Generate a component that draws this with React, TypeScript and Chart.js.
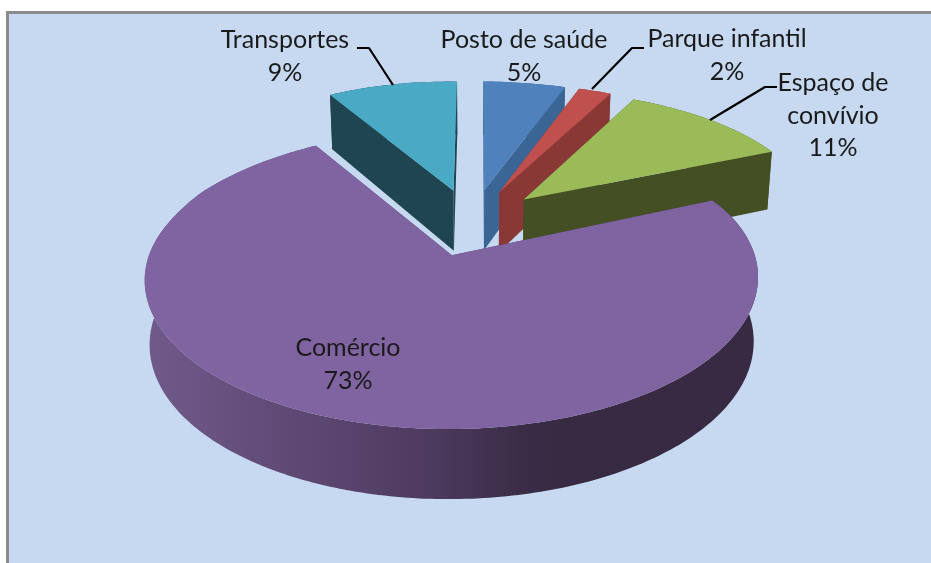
import React, { useEffect, useRef } from "react";
import { Chart, registerables } from "chart.js";

Chart.register(...registerables);

const categories = ["Posto de saúde", "Parque infantil", "Espaço de convívio", "Comércio", "Transportes"];
const shares = [5, 2, 11, 73, 9];
const topColours = ["#4f81bd", "#c0504d", "#9bbb59", "#8064a2", "#4aaac5"];
const wallColours = ["#3a6594", "#8a3836", "#454f24", "#4f3d63", "#1e4550"];
const paintOrder = [4, 0, 1, 2, 3];

const labelLines = [["Posto de saúde"], ["Parque infantil"], ["Espaço de", "convívio"], ["Comércio"], ["Transportes"]];
const labelCentres = [
  [524, 40],
  [727, 39],
  [833, 83],
  [348, 348],
  [285, 40],
];
const leaders: (number[][] | null)[] = [
  null,
  [[644, 48], [632, 48], [592, 89]],
  [[777, 87], [765, 87], [710, 120]],
  null,
  [[357, 48], [369, 48], [393, 85]],
];

const BG = "#c6d9f1";
const VIEW = { cx: 472, cy: 222, a: 292, b: 134, p: 0.15, explode: 0.25 };

function project(u: number, v: number, low: boolean) {
  const s = 1 / (1 + VIEW.p * v);
  let x = VIEW.cx + VIEW.a * u * s + 1 + 14 * Math.abs(u) * Math.max(v, 0);
  let y = VIEW.cy - VIEW.b * v * s + 3.5 * u * Math.max(0, Math.min(1, v * 5)) + 3 * Math.max(0, -v - 0.25);
  if (low) {
    x = VIEW.cx + (x - VIEW.cx) * 0.985;
    y += 61.7 - 6.7 * v;
  }
  return [x, y];
}

function polygon(ctx: CanvasRenderingContext2D, pts: number[][]) {
  ctx.beginPath();
  pts.forEach((p, i) => (i ? ctx.lineTo(p[0], p[1]) : ctx.moveTo(p[0], p[1])));
  ctx.closePath();
}

const pie3d = {
  id: "pie3d",
  beforeDraw(chart: any) {
    const ctx: CanvasRenderingContext2D = chart.ctx;
    ctx.save();
    ctx.fillStyle = "#ffffff";
    ctx.fillRect(0, 0, chart.width, chart.height);
    ctx.fillStyle = "#8c8c8c";
    ctx.fillRect(6, 11, chart.width - 6, chart.height - 11);
    ctx.fillStyle = BG;
    ctx.fillRect(9, 14, chart.width - 9, chart.height - 14);
    ctx.restore();
  },
  beforeDatasetsDraw(chart: any) {
    const ctx: CanvasRenderingContext2D = chart.ctx;
    const arcs = chart.getDatasetMeta(0).data;
    ctx.save();
    for (const i of paintOrder) {
      const arc = arcs[i];
      const t0 = arc.startAngle + Math.PI / 2;
      const t1 = arc.endAngle + Math.PI / 2;
      const mid = (t0 + t1) / 2;
      const ou = Math.sin(mid) * VIEW.explode;
      const ov = Math.cos(mid) * VIEW.explode;
      const steps = Math.max(8, Math.ceil((t1 - t0) * 60));
      const rim: number[][] = [];
      for (let k = 0; k <= steps; k++) {
        const t = t0 + ((t1 - t0) * k) / steps;
        rim.push([ou + Math.sin(t), ov + Math.cos(t)]);
      }
      const up = rim.map((r) => project(r[0], r[1], false));
      const down = rim.map((r) => project(r[0], r[1], true));
      const apex = project(ou, ov, false);
      const apexLow = project(ou, ov, true);

      // radial faces
      ctx.fillStyle = wallColours[i];
      polygon(ctx, [apex, up[0], down[0], apexLow]);
      ctx.fill();
      polygon(ctx, [apex, up[steps], down[steps], apexLow]);
      ctx.fill();

      // outer wall
      if (t1 - t0 > 1) {
        const g = ctx.createLinearGradient(145, 0, 757, 0);
        g.addColorStop(0, "#705a8b");
        g.addColorStop(0.45, "#4f3b61");
        g.addColorStop(0.62, "#3a2c46");
        g.addColorStop(0.7, "#372a42");
        g.addColorStop(1, "#372a42");
        ctx.fillStyle = g;
      }
      polygon(ctx, [...up, ...down.slice().reverse()]);
      ctx.fill();

      // top face
      ctx.fillStyle = topColours[i];
      polygon(ctx, [apex, ...up]);
      ctx.fill();
    }

    // leader lines
    ctx.strokeStyle = "#000000";
    ctx.lineWidth = 2.2;
    ctx.lineJoin = "round";
    leaders.forEach((pts) => {
      if (!pts) return;
      ctx.beginPath();
      pts.forEach((p, i) => (i ? ctx.lineTo(p[0], p[1]) : ctx.moveTo(p[0], p[1])));
      ctx.stroke();
    });

    // labels
    ctx.fillStyle = "#1a1a1a";
    ctx.font = '25px Lato, "Open Sans", sans-serif';
    ctx.textAlign = "center";
    ctx.textBaseline = "middle";
    categories.forEach((_, i) => {
      const lines = [...labelLines[i], `${shares[i]}%`];
      lines.forEach((line, k) => {
        ctx.fillText(line, labelCentres[i][0], labelCentres[i][1] + k * 32.5);
      });
    });
    ctx.restore();
    return false;
  },
};

export default function App() {
  const ref = useRef<HTMLCanvasElement>(null);
  useEffect(() => {
    const chart = new Chart(ref.current as HTMLCanvasElement, {
      type: "pie",
      data: {
        labels: categories,
        datasets: [{ data: shares, backgroundColor: topColours }],
      },
      options: {
        animation: false,
        responsive: false,
        events: [],
        plugins: { legend: { display: false }, tooltip: { enabled: false } },
      },
      plugins: [pie3d],
    } as any);
    return () => chart.destroy();
  }, []);
  return (
    <div style={{ position: "fixed", left: 0, top: 0, width: 931, height: 563 }}>
      <canvas ref={ref} width={931} height={563} style={{ display: "block" }} />
    </div>
  );
}
